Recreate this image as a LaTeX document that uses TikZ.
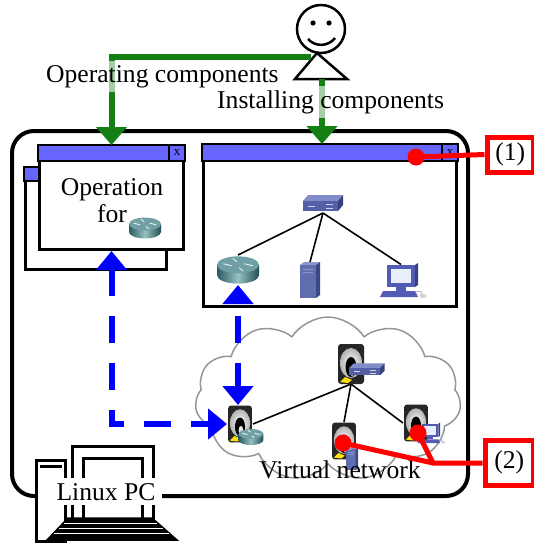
\documentclass[tikz,border=0pt]{standalone}
\usepackage{fontspec}
\setmainfont{Liberation Serif}
\usetikzlibrary{arrows.meta,shapes.symbols,calc}

\definecolor{barblue}{RGB}{102,102,255}
\definecolor{grn}{RGB}{20,128,20}
\definecolor{rtdark}{RGB}{40,92,98}
\definecolor{rtlight}{RGB}{150,192,192}
\definecolor{rttop}{RGB}{112,160,166}
\definecolor{swtop}{RGB}{130,140,200}
\definecolor{swfront}{RGB}{85,95,165}
\definecolor{swside}{RGB}{55,65,125}
\definecolor{svtop}{RGB}{140,150,205}
\definecolor{svfront}{RGB}{95,110,172}
\definecolor{svside}{RGB}{60,72,130}
\definecolor{pcdark}{RGB}{82,92,180}
\definecolor{pcscreen}{RGB}{232,238,250}
\definecolor{cloudgray}{RGB}{150,150,150}

\tikzset{
  lbl/.style={font=\fontsize{25.6}{30}\selectfont, inner sep=0pt},
  winframe/.style={draw=black, line width=3pt, fill=white, inner sep=0pt, anchor=north west},
  titlebar/.style={draw=black, line width=2pt, fill=barblue},
  closemark/.style={font=\fontsize{13}{13}\selectfont, inner sep=0pt},
  greenflow/.style={draw=grn, line width=6pt, -{Triangle[width=30pt,length=18pt]}},
  blueflow/.style={draw=blue, line width=6pt, dash pattern=on 27pt off 20pt,
    {Triangle[width=30pt,length=19pt]}-{Triangle[width=30pt,length=19pt]}},
  redline/.style={draw=red, line width=5pt},
  reddot/.style={circle, fill=red, minimum size=17pt, inner sep=0pt},
  redbox/.style={draw=red, line width=5pt, fill=white, inner sep=0pt, anchor=north west,
    font=\fontsize{25.6}{30}\selectfont},
  link/.style={draw=black, line width=1.6pt},
  slot/.style={inner sep=0pt, outer sep=0pt},
  % device icons, drawn around their centre
  routericon/.pic={
    \shade[left color=rtdark, right color=rtdark!85!black, middle color=rtlight]
      (-20,-5) -- (-20,5) arc[start angle=180, end angle=0, x radius=20, y radius=8] -- (20,-5) -- cycle;
    \fill[rttop] (0,-5) ellipse[x radius=20, y radius=8];
    \draw[white!85!rttop, line width=0.9pt]
      (-14,-6) -- (-6,-4) (14,-4) -- (6,-6) (-5,-11) -- (-1,-8) (5,1) -- (1,-2);
  },
  switchicon/.pic={
    \fill[swtop] (-20,-3) -- (-15,-9) -- (20,-9) -- (15,-3) -- cycle;
    \fill[swfront] (-20,-3) rectangle (15,7);
    \fill[swside] (15,-3) -- (20,-9) -- (20,1) -- (15,7) -- cycle;
    \draw[white!60!swtop, line width=1pt] (-15,2) -- (-8,2) (3,0) -- (10,0) (3,4) -- (10,4);
  },
  servericon/.pic={
    \fill[svtop] (-10,-15) -- (-6,-18) -- (10,-18) -- (6,-15) -- cycle;
    \fill[svfront] (-10,-15) rectangle (6,18);
    \fill[svside] (6,-15) -- (10,-18) -- (10,15) -- (6,18) -- cycle;
    \draw[svtop, line width=0.8pt] (-7,-11) -- (3,-11) (-7,-8) -- (3,-8);
  },
  pcicon/.pic={
    \fill[pcdark!70!black] (14,-17) -- (17,-19) -- (17,3) -- (14,5) -- cycle;
    \fill[pcdark] (-14,-17) rectangle (14,5);
    \fill[pcscreen] (-10,-13) rectangle (10,1);
    \fill[pcdark] (-5,5) rectangle (5,9);
    \fill[pcdark] (-18,9) -- (14,9) -- (17,15) -- (-21,15) -- cycle;
    \draw[pcdark!50!white, line width=0.8pt] (15,10) .. controls (19,8) and (21,10) .. (21,13);
    \fill[gray!35] (22,14) ellipse[x radius=3.5, y radius=2];
  },
  vmicon/.pic={
    \fill[black!85, rounded corners=3pt] (-13,-20) rectangle (13,20);
    \shade[inner color=white, outer color=gray!60] (0,-1) ellipse[x radius=11, y radius=15];
    \fill[black] (0,3) ellipse[x radius=5.5, y radius=10];
    \fill[white!80!gray] (1,7) ellipse[x radius=2.5, y radius=5];
    \fill[yellow!85!orange] (-11,18) -- (-6,13) -- (1,16) -- (-3,19) -- cycle;
  },
}

\begin{document}
\begin{tikzpicture}[x=1pt, y=-1pt]
\useasboundingbox (0,0) rectangle (533,543);

% the user
\draw[line width=2.5pt, fill=white] (321,29) circle (24);
\fill (313,23) circle (2.6);
\fill (329,23) circle (2.6);
\draw[line width=2.5pt] (308,39) .. controls (315,47) and (328,47) .. (335,38);
\draw[line width=2.5pt, fill=white] (317,53) -- (295,79) -- (347,79) -- cycle;
\coordinate (neck) at (311,57);
\coordinate (foot) at (322,79);

% host machine
\draw[line width=4pt, rounded corners=22pt] (12,131) rectangle (468,496);

% operation window with a second one behind it
\node[winframe, minimum width=141pt, minimum height=101pt] (backwin) at (24,167) {};
\filldraw[titlebar] (backwin.north west) rectangle ([yshift=-14pt]backwin.north east);
\node[winframe, minimum width=144pt, minimum height=103pt] (opwin) at (38,145) {};
\filldraw[titlebar] (opwin.north west) rectangle ([yshift=-16pt]opwin.north east);
\draw[line width=1.5pt] ([xshift=-16pt]opwin.north east) -- ([xshift=-16pt,yshift=-16pt]opwin.north east);
\node[closemark] at ([xshift=-8pt,yshift=-8pt]opwin.north east) {x};
\node[lbl, anchor=base] (optext) at (112,195) {Operation};
\node[lbl, anchor=base] (fortext) at (112,222) {for};
\node[slot, minimum width=33pt, minimum height=24pt] (oprtr) at (145,228) {};
\pic[scale=0.8] at (oprtr) {routericon};

% design window
\node[winframe, minimum width=253pt, minimum height=161pt] (netwin) at (202,144) {};
\filldraw[titlebar] (netwin.north west) rectangle ([yshift=-17pt]netwin.north east);
\draw[line width=1.5pt] ([xshift=-16pt]netwin.north east) -- ([xshift=-16pt,yshift=-17pt]netwin.north east);
\node[closemark] at ([xshift=-8pt,yshift=-8.5pt]netwin.north east) {x};

\node[slot, minimum width=40pt, minimum height=18pt] (sw) at (323,204) {};
\node[slot, minimum width=42pt, minimum height=30pt] (rtr) at (238,270) {};
\node[slot, minimum width=22pt, minimum height=36pt] (srv) at (310,280) {};
\node[slot, minimum width=42pt, minimum height=35pt] (pc) at (401,282) {};
\draw[link] (sw.south) -- (rtr.north);
\draw[link] (sw.south) -- (srv.north);
\draw[link] (sw.south) -- (pc.north);
\pic at (sw) {switchicon};
\pic[scale=1.05] at (rtr) {routericon};
\pic at (srv) {servericon};
\pic at (pc) {pcicon};

% virtual network
\node[cloud, draw=cloudgray, line width=1.5pt, fill=white, cloud puffs=11, cloud puff arc=115,
  aspect=1.65, minimum width=266pt, minimum height=164pt, inner sep=0pt] (cloud) at (328,399) {};

\node[slot, minimum width=26pt, minimum height=40pt] (vmt) at (351,364) {};
\node[slot, minimum width=26pt, minimum height=38pt] (vmr) at (240,424) {};
\node[slot, minimum width=24pt, minimum height=38pt] (vmm) at (344,441) {};
\node[slot, minimum width=26pt, minimum height=38pt] (vmp) at (416,423) {};
\draw[link] (vmt.south) -- (vmr.east);
\draw[link] (vmt.south) -- (vmm.north);
\draw[link] (vmt.south) -- (vmp.west);
\pic at (vmt) {vmicon};
\pic[scale=0.92] at (vmr) {vmicon};
\pic[scale=0.92] at (vmm) {vmicon};
\pic[scale=0.92] at (vmp) {vmicon};
\pic[xscale=0.88, yscale=0.75] at (367,370) {switchicon};
\pic[scale=0.62] at (251,437) {routericon};
\pic[scale=0.62] at (352,459) {servericon};
\pic[scale=0.6] at (430,434) {pcicon};

\node[lbl, anchor=base] (vnet) at (340,478) {Virtual network};

% user actions
\draw[greenflow] (neck) -| (opwin.north);
\draw[greenflow] (foot) -- (foot |- netwin.north);
\node[lbl, anchor=base west, fill=white, fill opacity=0.62, text opacity=1, inner xsep=2pt, inner ysep=4.5pt]
  (opcomp) at (44,82) {Operating components};
\node[lbl, anchor=base west, fill=white, fill opacity=0.62, text opacity=1, inner xsep=2pt, inner ysep=4.5pt]
  (instcomp) at (215,108) {Installing components};

% links between the windows and the virtual network
\draw[blueflow] (opwin.south) |- (vmr.west);
\draw[blueflow, dash phase=34pt] (rtr.south) -- (rtr.south |- vmr.north);

% the host
\begin{scope}[line width=3pt]
  \filldraw[fill=white] (36,460) rectangle (65,541);
  \draw (40,466) -- (62,466);
  \filldraw[fill=white] (72,520) -- (72,446) -- (153,446) -- (153,520);
  \draw (83,520) -- (83,458) -- (142,458) -- (142,520);
  \filldraw[fill=black, line width=1.5pt] (68,518) -- (152,518) -- (177,540) -- (47,540) -- cycle;
  \draw[white, line width=0.8pt] (64,523) -- (157,523) (59,528) -- (163,528) (54,533) -- (169,533);
\end{scope}
\node[lbl, anchor=base, fill=white, inner xsep=7pt, inner ysep=5pt] (linuxpc) at (106,500) {Linux PC};

% callouts
\node[redbox, minimum width=46.5pt, minimum height=35pt] (box1) at (484.5,134.5) {(1)};
\node[reddot] (d1) at (416,157) {};
\draw[redline] (d1.center) -- (box1.west);

\node[redbox, minimum width=48.5pt, minimum height=45pt] (box2) at (482.5,437.5) {(2)};
\coordinate (join) at (433,463);
\node[reddot] (d2) at (343,443) {};
\node[reddot] (d3) at (418,433) {};
\draw[redline] (d2.center) -- (join) -- (join -| box2.west);
\draw[redline] (d3.center) -- (join);
\end{tikzpicture}
\end{document}
